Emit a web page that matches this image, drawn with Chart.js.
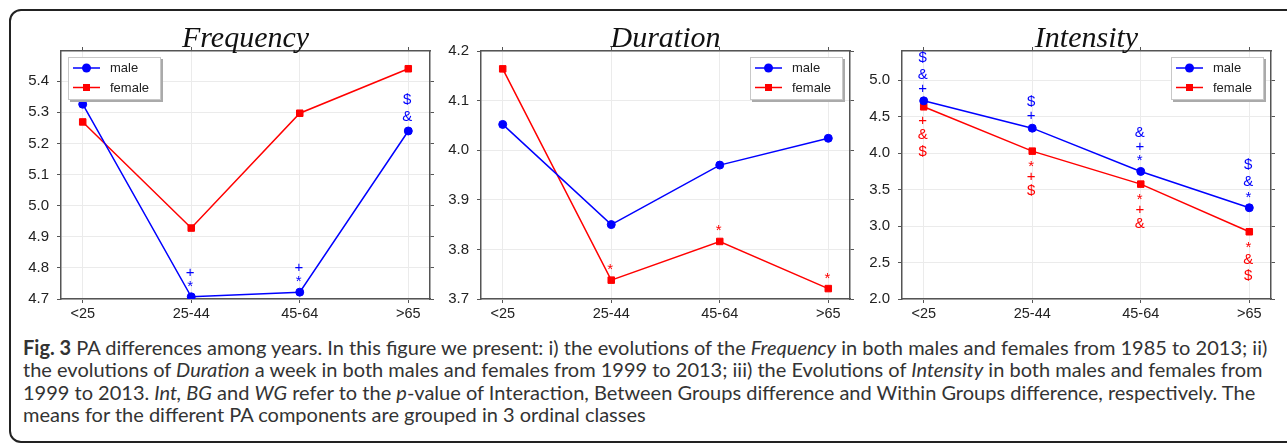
<!DOCTYPE html>
<html>
<head>
<meta charset="utf-8">
<script src="https://cdn.jsdelivr.net/npm/chart.js@4.4.1/dist/chart.umd.min.js"></script>
<style>
  body { margin: 0; width: 1287px; height: 444px; overflow: hidden; background: #fff; position: relative; }
  #frame { position: absolute; left: 9px; top: 9px; width: 1330px; height: 430px; border: 2px solid #222; border-radius: 12px; }
  canvas { position: absolute; top: 0; }
  #c1 { left: 11px; }
  #c2 { left: 431px; }
  #c3 { left: 852px; }
  #caption { position: absolute; left: 23px; top: 336px; font-family: Lato, "Open Sans", sans-serif; font-size: 21px;
             line-height: 22.3px; color: #333; white-space: nowrap; }
</style>
</head>
<body>
<div id="frame"></div>
<canvas id="c1" width="429" height="330"></canvas>
<canvas id="c2" width="429" height="330"></canvas>
<canvas id="c3" width="429" height="330"></canvas>
<div id="caption">
<span id="capLine1"><b>Fig. 3</b> PA differences among years. In this figure we present: i) the evolutions of the <i>Frequency</i> in both males and females from 1985 to 2013; ii)</span><br>
the evolutions of <i>Duration</i> a week in both males and females from 1999 to 2013; iii) the Evolutions of <i>Intensity</i> in both males and females from<br>
1999 to 2013. <i>Int, BG</i> and <i>WG</i> refer to the <i>p</i>-value of Interaction, Between Groups difference and Within Groups difference, respectively. The<br>
means for the different PA components are grouped in 3 ordinal classes
</div>
<script>
const ageGroups = ["<25", "25-44", "45-64", ">65"];

const freqMale = [5.326, 4.707, 4.722, 5.240];
const freqFemale = [5.269, 4.928, 5.297, 5.440];
const durMale = [4.052, 3.850, 3.970, 4.024];
const durFemale = [4.164, 3.738, 3.816, 3.721];
const intMale = [4.717, 4.342, 3.749, 3.251];
const intFemale = [4.635, 4.027, 3.575, 2.922];

const freqTicks = [4.7, 4.8, 4.9, 5.0, 5.1, 5.2, 5.3, 5.4];
const durTicks = [3.7, 3.8, 3.9, 4.0, 4.1, 4.2];
const intTicks = [2.0, 2.5, 3.0, 3.5, 4.0, 4.5, 5.0];

// significance marks, read top to bottom
const freqMaleMarks = ["", "+*", "+*", "$&"];
const freqFemaleMarks = ["", "", "", ""];
const durMaleMarks = ["", "", "", ""];
const durFemaleMarks = ["", "*", "*", "*"];
const intMaleMarks = ["$&+", "$+", "&+*", "$&*"];
const intFemaleMarks = ["+&$", "*+$", "*+&", "*&$"];

const blue = "#0000ff";
const red = "#ff0000";
const frameColor = "#555";
const gridColor = "#ebebeb";
const textColor = "#222";
const sans = "'Liberation Sans', Arial, sans-serif";

// fit the caption to the width of the original first line
const capLine1 = document.getElementById("capLine1");
document.getElementById("caption").style.fontSize = (21 * 1245 / capLine1.getBoundingClientRect().width) + "px";

const decor = {
  id: "decor",
  afterDraw(chart, args, opts) {
    const { ctx, chartArea: a } = chart;
    ctx.save();

    // title
    ctx.font = "italic 30px 'Liberation Serif', serif";
    ctx.fillStyle = "#111";
    ctx.textAlign = "center";
    ctx.textBaseline = "alphabetic";
    ctx.fillText(opts.title, (a.left + a.right) / 2, a.top - 4);

    // marks stacked above or below the points
    ctx.font = "15px " + sans;
    chart.data.datasets.forEach((ds, di) => {
      const marks = opts.marks[di];
      const up = opts.dirs[di] === "up";
      const meta = chart.getDatasetMeta(di);
      ctx.fillStyle = ds.borderColor;
      meta.data.forEach((pt, i) => {
        let chars = marks[i].split("");
        if (!chars.length) return;
        if (up) chars = chars.reverse();
        let c = pt.y;
        let prev = 14;
        chars.forEach((ch) => {
          const h = "$&".includes(ch) ? 16.5 : 12;
          c += (up ? -1 : 1) * (prev / 2 + h / 2);
          prev = h;
          const m = ctx.measureText(ch);
          const base = c + (m.actualBoundingBoxAscent - m.actualBoundingBoxDescent) / 2;
          ctx.fillText(ch, pt.x - 1, base);
        });
      });
    });

    // legend box
    const w = 93, h = 43;
    const x0 = opts.legendSide === "left" ? a.left + 7 : a.right - 7 - w;
    const y0 = a.top + 6;
    ctx.fillStyle = "#aaa";
    ctx.fillRect(x0 + 2, y0 + 2, w, h);
    ctx.fillStyle = "#fff";
    ctx.fillRect(x0, y0, w, h);
    ctx.strokeStyle = "#c8c8c8";
    ctx.lineWidth = 1;
    ctx.strokeRect(x0 + 0.5, y0 + 0.5, w - 1, h - 1);
    chart.data.datasets.forEach((ds, di) => {
      const y = y0 + 11 + di * 19.5;
      ctx.strokeStyle = ds.borderColor;
      ctx.lineWidth = 1.5;
      ctx.beginPath();
      ctx.moveTo(x0 + 5, y);
      ctx.lineTo(x0 + 32, y);
      ctx.stroke();
      ctx.fillStyle = ds.borderColor;
      ctx.beginPath();
      if (ds.pointStyle === "rect") ctx.rect(x0 + 18.5 - 3.5, y - 3.5, 7, 7);
      else ctx.arc(x0 + 18.5, y, 4.5, 0, Math.PI * 2);
      ctx.fill();
      ctx.fillStyle = textColor;
      ctx.font = "13px " + sans;
      ctx.textAlign = "left";
      ctx.textBaseline = "middle";
      ctx.fillText(ds.label, x0 + 42, y + 0.5);
    });
    ctx.restore();
  }
};

function toXY(values) {
  return values.map((v, i) => ({ x: i, y: v }));
}

function makePanel(id, title, male, female, maleMarks, femaleMarks, dirs, ticks, yMin, yMax, legendSide) {
  const ctx = document.getElementById(id).getContext("2d");
  return new Chart(ctx, {
    type: "line",
    data: {
      datasets: [
        {
          label: "male", data: toXY(male), borderColor: blue, backgroundColor: blue,
          borderWidth: 1.5, pointStyle: "circle", pointRadius: 4, pointBorderWidth: 1, clip: 0
        },
        {
          label: "female", data: toXY(female), borderColor: red, backgroundColor: red,
          borderWidth: 1.5, pointStyle: "rect", pointRadius: 4.6, pointBorderWidth: 1, clip: 0
        }
      ]
    },
    options: {
      responsive: false,
      animation: false,
      layout: { padding: 0 },
      plugins: {
        legend: { display: false },
        tooltip: { enabled: false },
        decor: { title: title, marks: [maleMarks, femaleMarks], dirs: dirs, legendSide: legendSide }
      },
      scales: {
        x: {
          type: "linear", position: "bottom", min: -0.2, max: 3.2,
          afterBuildTicks: (s) => { s.ticks = ageGroups.map((g, i) => ({ value: i })); },
          afterFit: (s) => { s.height = 31; },
          ticks: { callback: (v) => ageGroups[v], font: { family: sans, size: 14.5 }, color: textColor, padding: 2, maxRotation: 0 },
          grid: { color: gridColor, tickColor: frameColor, tickLength: 4 },
          border: { color: frameColor, width: 1.5 }
        },
        x2: {
          type: "linear", position: "top", min: -0.2, max: 3.2,
          afterBuildTicks: (s) => { s.ticks = ageGroups.map((g, i) => ({ value: i })); },
          afterFit: (s) => { s.height = 51; },
          ticks: { display: false },
          grid: { drawOnChartArea: false, tickColor: frameColor, tickLength: 4 },
          border: { color: frameColor, width: 1.5 }
        },
        y: {
          min: yMin, max: yMax,
          afterBuildTicks: (s) => { s.ticks = ticks.map((v) => ({ value: v })); },
          afterFit: (s) => { s.width = 50; },
          ticks: { callback: (v) => v.toFixed(1), font: { family: sans, size: 15 }, color: textColor, padding: 8 },
          grid: { color: gridColor, tickColor: frameColor, tickLength: 4 },
          border: { color: frameColor, width: 1.5 }
        },
        y2: {
          position: "right", min: yMin, max: yMax,
          afterBuildTicks: (s) => { s.ticks = ticks.map((v) => ({ value: v })); },
          afterFit: (s) => { s.width = 10; },
          ticks: { display: false },
          grid: { drawOnChartArea: false, tickColor: frameColor, tickLength: 4 },
          border: { color: frameColor, width: 1.5 }
        }
      }
    },
    plugins: [decor]
  });
}

makePanel("c1", "Frequency", freqMale, freqFemale, freqMaleMarks, freqFemaleMarks, ["up", "down"], freqTicks, 4.7, 5.497, "left");
makePanel("c2", "Duration", durMale, durFemale, durMaleMarks, durFemaleMarks, ["up", "up"], durTicks, 3.7, 4.2, "right");
makePanel("c3", "Intensity", intMale, intFemale, intMaleMarks, intFemaleMarks, ["up", "down"], intTicks, 2.0, 5.4, "right");
</script>
</body>
</html>
